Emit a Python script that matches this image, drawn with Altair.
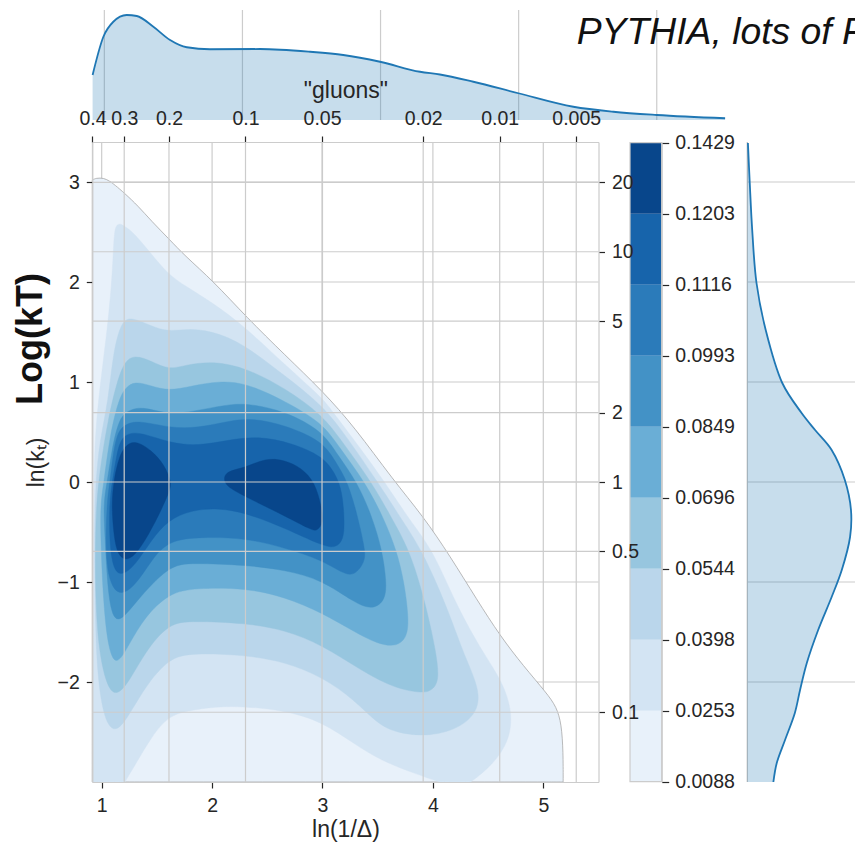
import json
import math

import altair as alt
import pandas as pd

# ---------------- values ----------------
X_DOMAIN = [0.915, 5.5]          # ln(1/Delta)
Y_DOMAIN = [-3.0, 3.4]           # ln(kt)
X_TICKS = [1, 2, 3, 4, 5]
Y_TICKS = [-2, -1, 0, 1, 2, 3]
DELTA_TICKS = [0.4, 0.3, 0.2, 0.1, 0.05, 0.02, 0.01, 0.005]
KT_TICKS = [0.1, 0.5, 1, 2, 5, 10, 20]

LEVEL_LABELS = ["0.0088", "0.0253", "0.0398", "0.0544", "0.0696",
                "0.0849", "0.0993", "0.1116", "0.1203", "0.1429"]
LEVEL_COLORS = ["#e8f1fa", "#d3e4f3", "#bad6eb", "#97c6df", "#6aaed6",
                "#4392c6", "#2b7bba", "#1764ab", "#08468b"]

CONTOUR_L0 = [(0.915, -3.0), (0.915, 3.02), (0.95, 3.04), (1.02, 3.04), (1.07, 3.01),
              (1.12, 2.97), (1.205, 2.89), (1.33, 2.76), (1.45, 2.61), (1.61, 2.43),
              (1.755, 2.26), (2.01, 2.01), (2.31, 1.65), (2.66, 1.27), (3.0, 0.91),
              (3.29, 0.55), (3.64, 0.02), (3.91, -0.34), (4.155, -0.74), (4.40, -1.18),
              (4.61, -1.54), (4.82, -1.84), (5.03, -2.11), (5.12, -2.25), (5.165, -2.42),
              (5.18, -2.7), (5.18, -3.0)]
CONTOUR_L1 = [(0.915, -3.0), (0.92, -2.0), (0.925, -1.0), (0.93, 0.0), (0.94, 0.47),
              (0.985, 0.97), (1.045, 1.47), (1.09, 1.97), (1.105, 2.3), (1.115, 2.52),
              (1.14, 2.58), (1.18, 2.58), (1.23, 2.54), (1.30, 2.48), (1.45, 2.28),
              (1.60, 2.08), (1.755, 1.96), (2.01, 1.79), (2.31, 1.54), (2.66, 1.17),
              (3.0, 0.84), (3.08, 0.72), (3.30, 0.40), (3.565, 0.0), (3.80, -0.40),
              (4.00, -0.68), (4.215, -1.24), (4.455, -1.71), (4.64, -2.01), (4.73, -2.35),
              (4.67, -2.65), (4.49, -2.88), (4.34, -3.0), (4.06, -3.0), (3.82, -2.91),
              (3.52, -2.78), (3.29, -2.62), (3.0, -2.40), (2.66, -2.28), (2.15, -2.23),
              (1.815, -2.28), (1.61, -2.33), (1.45, -2.55), (1.33, -2.78), (1.21, -3.0)]
CONTOUR_L2 = [(1.105, -2.51), (1.015, -2.35), (0.955, -1.88), (0.94, -1.21), (0.935, -0.54),
              (0.945, 0.0), (0.98, 0.40), (1.06, 0.81), (1.105, 1.31), (1.18, 1.61),
              (1.27, 1.65), (1.45, 1.56), (1.60, 1.50), (1.815, 1.54), (2.06, 1.49),
              (2.31, 1.36), (2.66, 1.06), (3.0, 0.77), (3.22, 0.45), (3.50, 0.0),
              (3.72, -0.38), (3.90, -0.68), (4.125, -1.24), (4.275, -1.71), (4.40, -2.01),
              (4.43, -2.25), (4.275, -2.45), (3.97, -2.55), (3.67, -2.51), (3.50, -2.42),
              (3.29, -2.18), (3.0, -1.95), (2.66, -1.80), (2.31, -1.73), (1.815, -1.71),
              (1.61, -1.76), (1.39, -2.05), (1.21, -2.41)]
CONTOUR_L3 = [(1.075, -2.16), (0.97, -1.71), (0.94, -1.05), (0.945, -0.30), (0.985, 0.14),
              (1.06, 0.64), (1.14, 1.01), (1.21, 1.21), (1.30, 1.27), (1.45, 1.21),
              (1.61, 1.12), (1.755, 1.17), (2.01, 1.21), (2.31, 1.14), (2.66, 0.94),
              (3.0, 0.67), (3.18, 0.40), (3.445, 0.0), (3.62, -0.35), (3.79, -0.68),
              (3.93, -1.2), (4.03, -1.7), (4.06, -2.0), (3.98, -2.09), (3.91, -2.11),
              (3.67, -2.07), (3.37, -1.90), (3.0, -1.63), (2.66, -1.48), (2.31, -1.41),
              (1.815, -1.39), (1.61, -1.41), (1.39, -1.70), (1.21, -2.08)]
CONTOUR_L4 = [(1.135, -1.85), (1.06, -1.68), (1.015, -1.21), (0.99, -0.55), (0.99, -0.21),
              (1.02, 0.0), (1.075, 0.47), (1.15, 0.81), (1.21, 0.94), (1.30, 1.01),
              (1.45, 0.96), (1.61, 0.91), (1.815, 0.96), (2.06, 1.01), (2.31, 0.99),
              (2.66, 0.81), (3.0, 0.59), (3.15, 0.35), (3.385, 0.0), (3.55, -0.35),
              (3.67, -0.68), (3.74, -1.0), (3.78, -1.35), (3.77, -1.55), (3.67, -1.65),
              (3.50, -1.62), (3.29, -1.50), (3.0, -1.31), (2.66, -1.15), (2.31, -1.06),
              (1.845, -1.06), (1.61, -1.11), (1.39, -1.35), (1.25, -1.62)]
CONTOUR_L5 = [(1.135, -1.45), (1.06, -1.21), (1.03, -0.55), (1.015, -0.21), (1.05, 0.0),
              (1.09, 0.31), (1.15, 0.61), (1.225, 0.71), (1.36, 0.76), (1.61, 0.67),
              (1.845, 0.71), (2.12, 0.77), (2.31, 0.79), (2.66, 0.71), (3.0, 0.51),
              (3.13, 0.28), (3.315, 0.0), (3.45, -0.35), (3.54, -0.68), (3.58, -1.0),
              (3.57, -1.18), (3.46, -1.28), (3.29, -1.21), (3.0, -0.98), (2.66, -0.88),
              (2.31, -0.83), (1.815, -0.81), (1.61, -0.83), (1.30, -1.21)]
CONTOUR_L6 = [(1.135, -1.16), (1.03, -0.88), (1.045, -0.21), (1.075, 0.0), (1.10, 0.25),
              (1.135, 0.47), (1.195, 0.57), (1.33, 0.62), (1.61, 0.54), (1.875, 0.54),
              (2.15, 0.61), (2.36, 0.64), (2.66, 0.57), (3.0, 0.41), (3.12, 0.2),
              (3.23, 0.0), (3.32, -0.35), (3.38, -0.65), (3.39, -0.78), (3.32, -0.9),
              (3.23, -0.95), (3.0, -0.78), (2.66, -0.66), (2.31, -0.56), (1.905, -0.55),
              (1.61, -0.58), (1.45, -0.78), (1.30, -1.05)]
CONTOUR_L7 = [(1.105, -0.88), (1.07, -0.6), (1.07, -0.21), (1.095, 0.0), (1.135, 0.27),
              (1.18, 0.47), (1.33, 0.51), (1.61, 0.39), (1.875, 0.36), (2.15, 0.42),
              (2.42, 0.46), (2.72, 0.39), (3.0, 0.26), (3.12, 0.08), (3.18, -0.1),
              (3.20, -0.4), (3.19, -0.58), (3.12, -0.66), (3.0, -0.64), (2.66, -0.46),
              (2.31, -0.31), (2.06, -0.26), (1.815, -0.28), (1.60, -0.38), (1.45, -0.58),
              (1.30, -0.84), (1.18, -0.94)]
CONTOUR_L8_LEFT = [(1.09, -0.21), (1.11, 0.0), (1.13, 0.12), (1.16, 0.25), (1.21, 0.36),
                   (1.30, 0.42), (1.45, 0.32), (1.57, 0.17), (1.63, 0.0), (1.62, -0.08),
                   (1.54, -0.28), (1.42, -0.54), (1.30, -0.74), (1.21, -0.79),
                   (1.135, -0.71), (1.105, -0.48)]
CONTOUR_L8_RIGHT = [(2.10, 0.0), (2.12, 0.11), (2.30, 0.14), (2.48, 0.24), (2.66, 0.22),
                    (2.81, 0.14), (2.93, 0.0), (2.99, -0.24), (3.01, -0.41), (2.95, -0.49),
                    (2.90, -0.48), (2.66, -0.34), (2.42, -0.21), (2.18, -0.08)]

TOP_X = [0.915, 0.993, 1.065, 1.162, 1.235, 1.355, 1.476, 1.597, 1.765, 2.127, 2.49,
         2.73, 2.996, 3.286, 3.43, 3.672, 3.998, 4.396, 4.686, 5.0, 5.495]
TOP_DENSITY = [0.18, 0.333, 0.393, 0.42, 0.416, 0.373, 0.32, 0.291, 0.283, 0.284, 0.273,
               0.26, 0.233, 0.193, 0.182, 0.153, 0.107, 0.053, 0.033, 0.020, 0.007]

RIGHT_Y = [3.39, 2.99, 2.52, 1.99, 1.52, 0.99, 0.69, 0.52, 0.32, 0.02, -0.28, -0.55,
           -0.88, -1.15, -1.48, -1.81, -2.08, -2.31, -2.58, -2.81, -3.0]
RIGHT_DENSITY = [0.002, 0.008, 0.016, 0.030, 0.060, 0.114, 0.177, 0.221, 0.275, 0.318,
                 0.338, 0.335, 0.308, 0.275, 0.231, 0.194, 0.172, 0.155, 0.123, 0.096,
                 0.085]

TITLE = "PYTHIA, lots of FSR"
BIG_LABEL = "Log(kT)"

# ---------------- layout / style ----------------
W, H = 855, 844
FONT = "Liberation Sans"
DARK = "#262626"
GRID = "#cccccc"
KDE = "#1f77b4"

MAIN_XR = [92.3, 598.5]
MAIN_YR = [782.0, 142.0]
TOP_XR = [92.6, 725.8]
TOP_YR = [120.0, 10.0]
TOP_DDOM = [0.0, 0.44]
RIGHT_XR = [747.3, 870.0]
RIGHT_DDOM = [0.0, 0.4]
CB_XR = [630.0, 661.7]
CB_YR = [781.7, 142.7]


def lin(domain, rng):
    return alt.Scale(type="linear", domain=domain, range=rng, nice=False, zero=False)


def sx():
    return lin(X_DOMAIN, MAIN_XR)


def sy():
    return lin(Y_DOMAIN, MAIN_YR)


AX = dict(grid=False, domainColor=GRID, domainWidth=1.2, tickColor=DARK, tickWidth=1.2,
          labelFont=FONT, labelFontSize=19.5, labelColor=DARK, labelFlush=False,
          labelOverlap=False, titleFont=FONT, titleFontSize=23, titleFontWeight="normal",
          titleColor=DARK, zindex=1)

layers = []

# main grid (below contours) carrying the main axes
gx = pd.DataFrame({"v": X_TICKS, "a": Y_DOMAIN[0], "b": Y_DOMAIN[1]})
layers.append(alt.Chart(gx).mark_rule(color=GRID, strokeWidth=1.2).encode(
    x=alt.X("v:Q", scale=sx(), axis=alt.Axis(
        orient="bottom", offset=-(H - MAIN_YR[0]), values=X_TICKS, format="d",
        tickSize=6, labelPadding=8, title="ln(1/Δ)", titlePadding=4, **AX)),
    y=alt.Y("a:Q", scale=sy(), axis=None), y2="b:Q"))

gy = pd.DataFrame({"v": Y_TICKS, "a": X_DOMAIN[0], "b": X_DOMAIN[1]})
layers.append(alt.Chart(gy).mark_rule(color=GRID, strokeWidth=1.2).encode(
    y=alt.Y("v:Q", scale=sy(), axis=alt.Axis(
        orient="left", offset=-MAIN_XR[0], values=Y_TICKS, format="d",
        tickSize=6, labelPadding=7, title="ln(kₜ)", titlePadding=9, **AX)),
    x=alt.X("a:Q", scale=sx(), axis=None), x2="b:Q"))


def on_edge(x, y):
    return x <= X_DOMAIN[0] + 1e-9 or y <= Y_DOMAIN[0] + 1e-9


# filled contours, painted from the outermost level inwards (smooth closed B-splines;
# points on the plot frame are repeated so the curve meets the frame exactly)
contours = [[CONTOUR_L0], [CONTOUR_L1], [CONTOUR_L2], [CONTOUR_L3], [CONTOUR_L4],
            [CONTOUR_L5], [CONTOUR_L6], [CONTOUR_L7], [CONTOUR_L8_LEFT, CONTOUR_L8_RIGHT]]
for lev, polys in enumerate(contours):
    rows = []
    for p, pts in enumerate(polys):
        i = 0
        for (x, y) in pts:
            for _ in range(3 if on_edge(x, y) else 1):
                rows.append({"x": x, "y": y, "i": i, "p": p})
                i += 1
    df = pd.DataFrame(rows)
    color = LEVEL_COLORS[lev]
    if lev == 0:
        mk = alt.Chart(df).mark_line(fill=color, stroke="#a8a8a8", strokeWidth=0.8,
                                     interpolate="basis-closed")
    else:
        mk = alt.Chart(df).mark_line(fill=color, stroke=color, strokeWidth=0.4,
                                     interpolate="basis-closed")
    layers.append(mk.encode(
        x=alt.X("x:Q", scale=sx(), axis=None),
        y=alt.Y("y:Q", scale=sy(), axis=None),
        detail="p:N",
        order=alt.Order("i:Q")))

# secondary (twin) grids drawn over the contours, carrying the top/right axes
delta_scale = alt.Scale(type="log", domain=[math.exp(-X_DOMAIN[0]), math.exp(-X_DOMAIN[1])],
                        range=MAIN_XR, nice=False)
gd = pd.DataFrame({"d": DELTA_TICKS, "a": Y_DOMAIN[0], "b": Y_DOMAIN[1]})
layers.append(alt.Chart(gd).mark_rule(color=GRID, strokeWidth=1.2).encode(
    x=alt.X("d:Q", scale=delta_scale, axis=alt.Axis(
        orient="top", offset=-MAIN_YR[1], values=DELTA_TICKS, format="~g",
        tickSize=6, labelPadding=8, title='"gluons"', titlePadding=6, **AX)),
    y=alt.Y("a:Q", scale=sy(), axis=None), y2="b:Q"))

kt_scale = alt.Scale(type="log", domain=[math.exp(Y_DOMAIN[0]), math.exp(Y_DOMAIN[1])],
                     range=MAIN_YR, nice=False)
gk = pd.DataFrame({"k": KT_TICKS, "a": X_DOMAIN[0], "b": X_DOMAIN[1]})
layers.append(alt.Chart(gk).mark_rule(color=GRID, strokeWidth=1.2).encode(
    y=alt.Y("k:Q", scale=kt_scale, axis=alt.Axis(
        orient="right", offset=-(W - MAIN_XR[1]), values=KT_TICKS, format="~g",
        tickSize=6, labelPadding=7, title="", **AX)),
    x=alt.X("a:Q", scale=sx(), axis=None), x2="b:Q"))

# colour bar
cb = pd.DataFrame({"lo": list(range(9)), "hi": list(range(1, 10)),
                   "band": [f"b{i}" for i in range(9)], "x0": 0.0, "x1": 1.0})
cb_expr = "[" + ",".join(json.dumps(s).replace('"', "'") for s in LEVEL_LABELS) + "][datum.value]"
layers.append(alt.Chart(cb).mark_rect().encode(
    x=alt.X("x0:Q", scale=lin([0, 1], CB_XR), axis=None), x2="x1:Q",
    y=alt.Y("lo:Q", scale=lin([0, 9], CB_YR), axis=alt.Axis(
        orient="right", offset=-(W - CB_XR[1]), values=list(range(10)), labelExpr=cb_expr,
        tickSize=7, labelPadding=6, title="", **AX)),
    y2="hi:Q",
    color=alt.Color("band:N", scale=alt.Scale(domain=list(cb["band"]), range=LEVEL_COLORS),
                    legend=None)))
cbo = pd.DataFrame({"lo": [0], "hi": [9], "x0": [0.0], "x1": [1.0]})
layers.append(alt.Chart(cbo).mark_rect(fillOpacity=0, stroke=GRID, strokeWidth=1.2).encode(
    x=alt.X("x0:Q", scale=lin([0, 1], CB_XR), axis=None), x2="x1:Q",
    y=alt.Y("lo:Q", scale=lin([0, 9], CB_YR), axis=None), y2="hi:Q"))

# top marginal KDE
tg = pd.DataFrame({"v": X_TICKS, "a": TOP_DDOM[0], "b": TOP_DDOM[1]})
layers.append(alt.Chart(tg).mark_rule(color=GRID, strokeWidth=1.2).encode(
    x=alt.X("v:Q", scale=lin(X_DOMAIN, TOP_XR), axis=None),
    y=alt.Y("a:Q", scale=lin(TOP_DDOM, TOP_YR), axis=None), y2="b:Q"))
top = pd.DataFrame({"x": TOP_X, "d": TOP_DENSITY})
layers.append(alt.Chart(top).mark_area(color=KDE, opacity=0.25, interpolate="monotone").encode(
    x=alt.X("x:Q", scale=lin(X_DOMAIN, TOP_XR), axis=None),
    y=alt.Y("d:Q", scale=lin(TOP_DDOM, TOP_YR), axis=None, stack=False)))
layers.append(alt.Chart(top).mark_line(color=KDE, strokeWidth=1.8, interpolate="monotone").encode(
    x=alt.X("x:Q", scale=lin(X_DOMAIN, TOP_XR), axis=None),
    y=alt.Y("d:Q", scale=lin(TOP_DDOM, TOP_YR), axis=None)))

# right marginal KDE
rg = pd.DataFrame({"v": Y_TICKS, "a": RIGHT_DDOM[0], "b": RIGHT_DDOM[1]})
layers.append(alt.Chart(rg).mark_rule(color=GRID, strokeWidth=1.2).encode(
    y=alt.Y("v:Q", scale=sy(), axis=None),
    x=alt.X("a:Q", scale=lin(RIGHT_DDOM, RIGHT_XR), axis=None), x2="b:Q"))
rs = pd.DataFrame({"a": [Y_DOMAIN[0]], "b": [Y_DOMAIN[1]], "z": [0.0]})
layers.append(alt.Chart(rs).mark_rule(color="#bbbbbb", strokeWidth=1.2).encode(
    x=alt.X("z:Q", scale=lin(RIGHT_DDOM, RIGHT_XR), axis=None),
    y=alt.Y("a:Q", scale=sy(), axis=None), y2="b:Q"))
right = pd.DataFrame({"y": RIGHT_Y, "d": RIGHT_DENSITY})
layers.append(alt.Chart(right).mark_area(color=KDE, opacity=0.25, orient="horizontal",
                                         interpolate="monotone").encode(
    x=alt.X("d:Q", scale=lin(RIGHT_DDOM, RIGHT_XR), axis=None, stack=False),
    y=alt.Y("y:Q", scale=sy(), axis=None)))
layers.append(alt.Chart(right).mark_line(color=KDE, strokeWidth=1.8,
                                         interpolate="catmull-rom").encode(
    x=alt.X("d:Q", scale=lin(RIGHT_DDOM, RIGHT_XR), axis=None),
    y=alt.Y("y:Q", scale=sy(), axis=None),
    order=alt.Order("y:Q")))

# texts
layers.append(alt.Chart(pd.DataFrame({"t": [BIG_LABEL]})).mark_text(
    font=FONT, fontSize=36, fontWeight="bold", color="#111111", angle=270,
    align="center", baseline="alphabetic").encode(
    text="t:N", x=alt.value(41.5), y=alt.value(339)))
layers.append(alt.Chart(pd.DataFrame({"t": [TITLE]})).mark_text(
    font=FONT, fontSize=37.3, fontStyle="italic", color="#111111",
    align="left", baseline="alphabetic").encode(
    text="t:N", x=alt.value(576.7), y=alt.value(44)))

chart = alt.layer(*layers).resolve_scale(
    x="independent", y="independent", color="independent"
).properties(
    width=W, height=H, autosize=alt.AutoSizeParams(type="none"), padding=0
).configure_view(strokeWidth=0)

chart.save("out.html", embed_options={"renderer": "svg", "actions": False})
